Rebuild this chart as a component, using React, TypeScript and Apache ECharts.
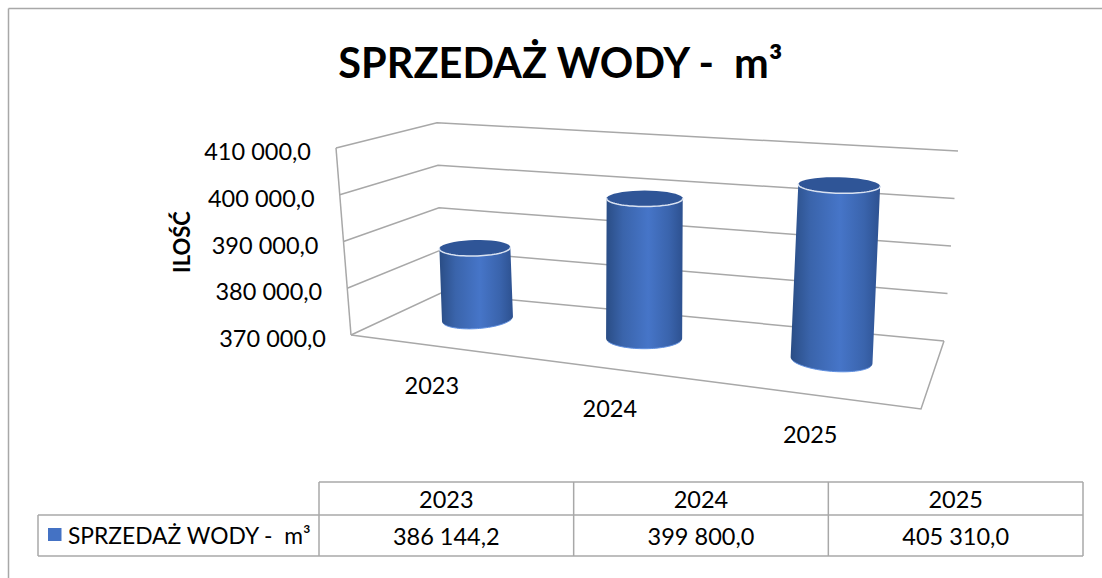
import React, { useEffect, useRef } from "react";
import * as echarts from "echarts";

const titleText = "SPRZEDAŻ WODY -  m³";
const yAxisName = "ILOŚĆ";
const categories = ["2023", "2024", "2025"];
const seriesName = "SPRZEDAŻ WODY -  m³";
const seriesValues = [386144.2, 399800.0, 405310.0];
const yTicks = [370000, 380000, 390000, 400000, 410000];
const yMin = 370000;
const yMax = 410000;

const FONT = "Lato, 'Open Sans', sans-serif";
const GRID = { left: 100, top: 100, width: 800, height: 300 };
const LINE = "#a8a8a8";

type Pt = [number, number];
const lerp = (a: number, b: number, t: number) => a + (b - a) * t;
const lerpPt = (a: Pt, b: Pt, t: number): Pt => [lerp(a[0], b[0], t), lerp(a[1], b[1], t)];

// corners of the 3D box as projected on the page
const BOX = {
  backLeftLow: [441, 293] as Pt,
  backLeftHigh: [437, 122.7] as Pt,
  backRightLow: [944, 341] as Pt,
  backRightHigh: [958, 151] as Pt,
  frontLeftLow: [351, 335] as Pt,
  frontLeftHigh: [336, 148] as Pt,
  frontRightLow: [921, 409] as Pt,
  frontRightHigh: [939, 194] as Pt,
};
const FORESHORTEN = 0.838;
const warp = (u: number) => (FORESHORTEN * u) / (1 + (FORESHORTEN - 1) * u);

// u: 0..1 across categories, v: 0..1 up the value axis, d: 0 back wall .. 1 front edge
function project(u: number, v: number, d: number): Pt {
  const w = warp(u);
  const back = lerpPt(
    lerpPt(BOX.backLeftLow, BOX.backLeftHigh, v),
    lerpPt(BOX.backRightLow, BOX.backRightHigh, v),
    w
  );
  const front = lerpPt(
    lerpPt(BOX.frontLeftLow, BOX.frontLeftHigh, v),
    lerpPt(BOX.frontRightLow, BOX.frontRightHigh, v),
    w
  );
  return lerpPt(back, front, d);
}

const fmt = (n: number) => {
  const [i, f] = n.toFixed(1).split(".");
  return i.replace(/\B(?=(\d{3})+$)/g, " ") + "," + f;
};

function toUV(api: any, params: any, cat: number, val: number) {
  const c = api.coord([cat, val]);
  const cs = params.coordSys;
  return { u: (c[0] - cs.x) / cs.width, v: (cs.y + cs.height - c[1]) / cs.height };
}

function renderWall(params: any, api: any) {
  const value = api.value(1);
  const { v } = toUV(api, params, 0, value);
  const a = project(0, v, 1);
  const b = project(0, v, 0);
  const c = project(1, v, 0);
  const lineStyle = { stroke: LINE, lineWidth: 1.5, fill: "none" };
  const children: any[] = [
    { type: "polyline", shape: { points: [a, b, c] }, style: lineStyle },
    {
      type: "text",
      style: {
        text: fmt(value),
        x: a[0] - 25,
        y: a[1] + 3,
        align: "right",
        verticalAlign: "middle",
        font: `23.5px ${FONT}`,
        fill: "#000",
      },
    },
  ];
  if (params.dataIndex === 0) {
    children.push({
      type: "polyline",
      shape: { points: [project(0, 0, 1), project(0, 1, 1)] },
      style: lineStyle,
    });
    children.push({
      type: "polyline",
      shape: { points: [project(0, 0, 1), project(1, 0, 1), project(1, 0, 0)] },
      style: lineStyle,
    });
  }
  return { type: "group", children };
}

const CYL_DEPTH = 0.42;
const ellipse = (cx: number, cy: number, rx: number, ry: number, tilt: number, from: number, to: number) => {
  const pts: Pt[] = [];
  const n = 40;
  for (let i = 0; i <= n; i++) {
    const t = lerp(from, to, i / n);
    pts.push([cx + rx * Math.cos(t), cy + ry * Math.sin(t) + tilt * Math.cos(t)]);
  }
  return pts;
};

function renderCylinder(params: any, api: any) {
  const cat = api.value(0);
  const { u, v } = toUV(api, params, cat, api.value(1));
  const base = project(u, 0, CYL_DEPTH);
  const top = project(u, v, CYL_DEPTH);
  const w = warp(u);
  base[0] -= 2.3 * (1 - w);
  base[1] += 3.5 * w - 0.8;
  top[0] -= 2.5;
  top[1] += 2.2 - 2.6 * w;
  const rx = 34.3 + 8.2 * w;
  const baseRy = 9.5 + 2 * w;
  const baseTilt = rx * 0.22 * (w - 0.45);
  const topTilt = rx * 0.07 * (w - 0.45);
  const lowerTop = ellipse(top[0], top[1], rx, 8, topTilt, Math.PI, 0);
  const lowerBase = ellipse(base[0], base[1], rx, baseRy, baseTilt, Math.PI, 0);
  const body = [...lowerBase, ...lowerTop.slice().reverse()];
  return {
    type: "group",
    children: [
      {
        type: "polygon",
        shape: { points: body },
        style: {
          fill: {
            type: "linear",
            x: 0,
            y: 0,
            x2: 1,
            y2: 0,
            colorStops: [
              { offset: 0, color: "#2a4d85" },
              { offset: 0.22, color: "#3a64ab" },
              { offset: 0.55, color: "#4675c8" },
              { offset: 0.82, color: "#3a64ad" },
              { offset: 1, color: "#2d5190" },
            ],
          },
        },
      },
      {
        type: "polygon",
        shape: { points: ellipse(top[0], top[1], rx, 8, topTilt, 0, Math.PI * 2) },
        style: { fill: "#2f5597" },
      },
      {
        type: "polyline",
        shape: { points: ellipse(top[0], top[1], rx, 8, topTilt, Math.PI * 1.02, -Math.PI * 0.02) },
        style: { stroke: "#d9e2f1", lineWidth: 1.5, fill: "none" },
      },
      {
        type: "polyline",
        shape: { points: ellipse(base[0], base[1], rx, baseRy, baseTilt, Math.PI * 0.9, Math.PI * 0.1) },
        style: { stroke: "#5f8fe0", lineWidth: 1, fill: "none" },
      },
    ],
  };
}

function renderCategory(params: any, api: any) {
  const cat = api.value(0);
  const { u } = toUV(api, params, cat, yMin);
  const p = project(u, 0, 1);
  return {
    type: "text",
    style: {
      text: categories[cat],
      x: p[0] - 1,
      y: p[1] + 39,
      align: "center",
      verticalAlign: "middle",
      font: `23.5px ${FONT}`,
      fill: "#000",
    },
  };
}

// data table under the chart
const TABLE = { left: 38, col0: 319, right: 1083, top: 482, mid: 515, bottom: 556 };

function tableGraphics() {
  const { left, col0, right, top, mid, bottom } = TABLE;
  const colW = (right - col0) / categories.length;
  const line = (x1: number, y1: number, x2: number, y2: number) => ({
    type: "line",
    shape: { x1, y1, x2, y2 },
    style: { stroke: LINE, lineWidth: 1.5 },
  });
  const cellText = (text: string, x: number, y: number) => ({
    type: "text",
    style: { text, x, y, align: "center", verticalAlign: "middle", font: `23.5px ${FONT}`, fill: "#000" },
  });
  const els: any[] = [
    line(8.5, 8.5, 1102, 8.5),
    line(8.5, 8.5, 8.5, 578),
    line(col0, top, right, top),
    line(left, mid, right, mid),
    line(left, bottom, right, bottom),
    line(left, mid, left, bottom),
  ];
  for (let i = 0; i <= categories.length; i++) {
    const x = col0 + colW * i;
    els.push(line(x, top, x, bottom));
  }
  categories.forEach((c, i) => {
    const x = col0 + colW * (i + 0.5);
    els.push(cellText(c, x, (top + mid) / 2 + 0.5));
    els.push(cellText(fmt(seriesValues[i]), x, (mid + bottom) / 2));
  });
  els.push({ type: "rect", shape: { x: 48, y: 528, width: 13.5, height: 13 }, style: { fill: "#4472c4" } });
  els.push({
    type: "text",
    style: { text: seriesName, x: 68, y: 535, align: "left", verticalAlign: "middle", font: `22.8px ${FONT}`, fill: "#000" },
  });
  els.push({
    type: "text",
    x: 181,
    y: 242,
    rotation: Math.PI / 2,
    style: { text: yAxisName, x: 0, y: 0, align: "center", verticalAlign: "middle", font: `bold 22px ${FONT}`, fill: "#000" },
  });
  return els;
}

export default function App() {
  const ref = useRef<HTMLDivElement>(null);
  useEffect(() => {
    const chart = echarts.init(ref.current!, null, { renderer: "svg" });
    chart.setOption({
      animation: false,
      backgroundColor: "#fff",
      title: {
        text: titleText,
        left: 555.5,
        top: 36,
        textAlign: "center",
        textStyle: { fontFamily: FONT, fontWeight: "bold", fontSize: 41.5, color: "#000" },
      },
      grid: GRID,
      xAxis: { type: "category", data: categories, show: false },
      yAxis: { type: "value", min: yMin, max: yMax, interval: 10000, show: false },
      graphic: tableGraphics(),
      series: [
        {
          type: "custom",
          name: "grid",
          renderItem: renderWall,
          data: yTicks.map((t) => [0, t]),
          silent: true,
          z: 1,
        },
        {
          type: "custom",
          name: "labels",
          renderItem: renderCategory,
          data: categories.map((_, i) => [i, yMin]),
          silent: true,
          z: 2,
        },
        {
          type: "custom",
          name: seriesName,
          renderItem: renderCylinder,
          data: seriesValues.map((v, i) => [i, v]),
          z: 3,
        },
      ],
    });
    return () => chart.dispose();
  }, []);
  return <div ref={ref} style={{ position: "fixed", left: 0, top: 0, width: 1102, height: 578 }} />;
}
